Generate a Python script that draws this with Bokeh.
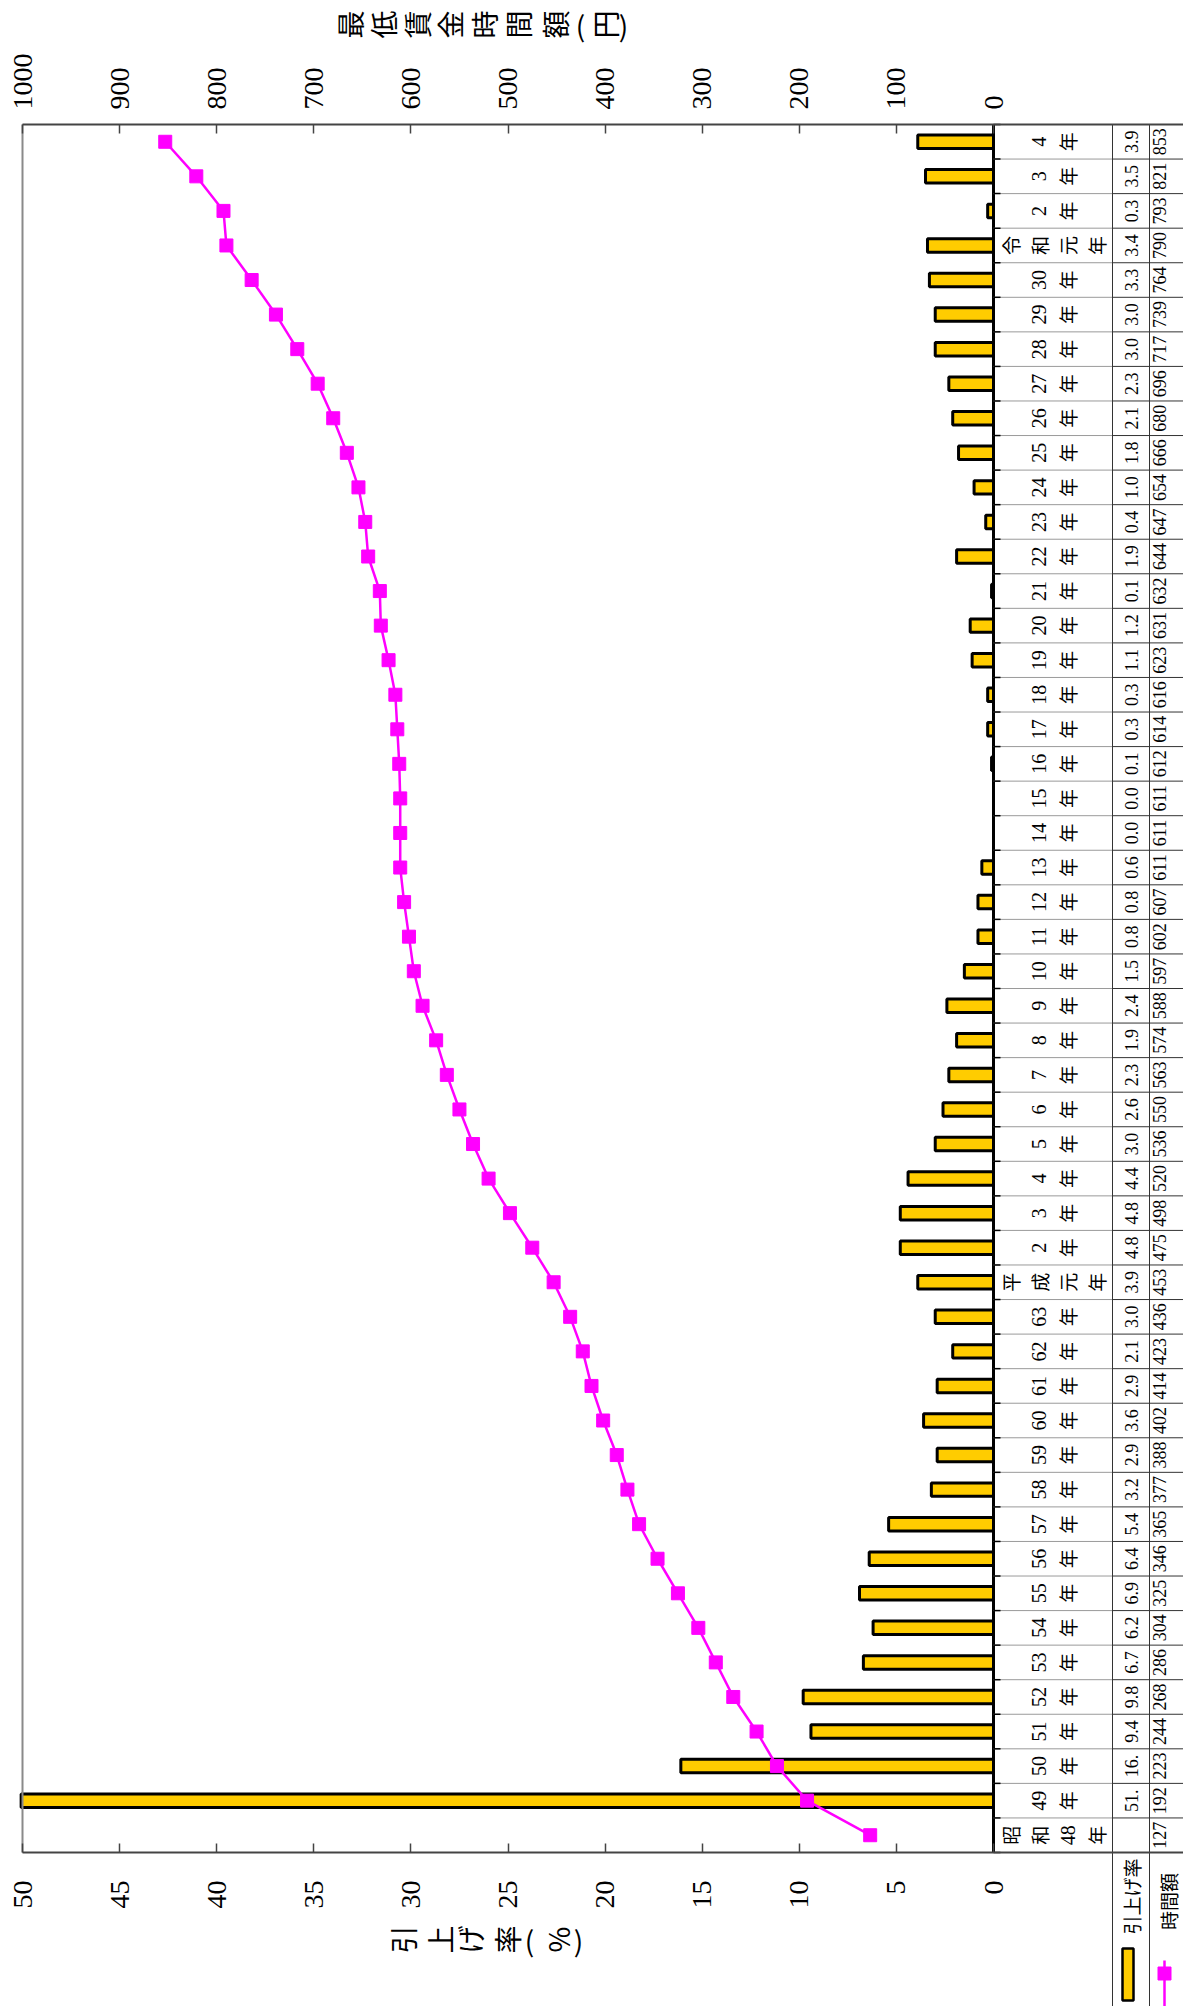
import math
import re
from bokeh.plotting import figure
from bokeh.models import Range1d, LinearAxis, FixedTicker, ColumnDataSource
from bokeh.embed import file_html
from bokeh.resources import INLINE
from bokeh.core.properties import value

# ---------------- data ----------------
categories = ["昭和48年", "49年", "50年", "51年", "52年", "53年", "54年", "55年", "56年", "57年",
              "58年", "59年", "60年", "61年", "62年", "63年",
              "平成元年", "2年", "3年", "4年", "5年", "6年", "7年", "8年", "9年", "10年",
              "11年", "12年", "13年", "14年", "15年", "16年", "17年", "18年", "19年", "20年",
              "21年", "22年", "23年", "24年", "25年", "26年", "27年", "28年", "29年", "30年",
              "令和元年", "2年", "3年", "4年"]
rate = [None, 51.2, 16.1, 9.4, 9.8, 6.7, 6.2, 6.9, 6.4, 5.4,
        3.2, 2.9, 3.6, 2.9, 2.1, 3.0,
        3.9, 4.8, 4.8, 4.4, 3.0, 2.6, 2.3, 1.9, 2.4, 1.5,
        0.8, 0.8, 0.6, 0.0, 0.0, 0.1, 0.3, 0.3, 1.1, 1.2,
        0.1, 1.9, 0.4, 1.0, 1.8, 2.1, 2.3, 3.0, 3.0, 3.3,
        3.4, 0.3, 3.5, 3.9]
wage = [127, 192, 223, 244, 268, 286, 304, 325, 346, 365,
        377, 388, 402, 414, 423, 436,
        453, 475, 498, 520, 536, 550, 563, 574, 588, 597,
        602, 607, 611, 611, 611, 612, 614, 616, 623, 631,
        632, 644, 647, 654, 666, 680, 696, 717, 739, 764,
        790, 793, 821, 853]
rate_ticks = list(range(0, 51, 5))
wage_ticks = list(range(0, 1001, 100))
title_wage = "最低賃金時間額(円)"
title_rate = "引上げ率(%)"
legend_rate = "引上げ率"
legend_wage = "時間額"

# ---------------- layout (page pixels) ----------------
W, H = 1183, 2006
PL, PR, PT, PB = 22, 993, 124, 1852  # plot frame
n = len(categories)
RATE_MAX, WAGE_MAX = 50, 1000
px_rate = (PR - PL) / RATE_MAX
px_wage = (PR - PL) / WAGE_MAX
px_row = (PB - PT) / n


def xv(X):   # page x -> rate units
    return (PR - X) / px_rate


def wv(X):   # page x -> wage units
    return (PR - X) / px_wage


def yv(Y):   # page y -> category index units
    return (n - 0.5) - (Y - PT) / px_row


CJK = value("Noto Sans CJK JP")
NUM = value("Liberation Sans Narrow")
ROT = math.pi / 2
idx = list(range(n))

p = figure(width=W, height=H,
           x_range=Range1d(xv(0), xv(W)), y_range=Range1d(yv(H), yv(0)),
           output_backend="svg", toolbar_location=None,
           x_axis_location=None, y_axis_location=None,
           min_border_left=0, min_border_right=0, min_border_top=0, min_border_bottom=0,
           outline_line_color=None, background_fill_color="white", border_fill_color="white")
p.extra_x_ranges = {"wage": Range1d(wv(0), wv(W))}
p.grid.visible = False

# ---------------- bars + line ----------------
rate_plot = [float("nan") if r is None else r for r in rate]
src = ColumnDataSource(dict(idx=idx, rate=rate_plot, wage=wage,
                            clip=[min(r, RATE_MAX + 0.07) if r == r else r for r in rate_plot]))
p.hbar(y="idx", left=0, right="clip", height=0.39, source=src,
       fill_color="#FFCC00", line_color="black", line_width=3)
p.line(x="wage", y="idx", source=src, x_range_name="wage",
       line_color="#FF00FF", line_width=2.5)
p.scatter(x="wage", y="idx", source=src, x_range_name="wage", marker="square",
          size=13, fill_color="#FF00FF", line_color="#FF00FF")

# frame borders: left (grey) and category axis (black, at rate 0)
p.segment(x0=[RATE_MAX], y0=[yv(PT)], x1=[RATE_MAX], y1=[yv(PB)], line_color="#8a8a8a", line_width=2)
p.segment(x0=[0], y0=[yv(PT)], x1=[0], y1=[yv(PB)], line_color="black", line_width=3)


# ---------------- value axes ----------------
def style_axis(ax, standoff):
    ax.major_label_orientation = ROT
    ax.major_tick_in = 9
    ax.major_tick_out = 0
    ax.minor_tick_in = 0
    ax.minor_tick_out = 0
    ax.axis_line_color = "#444444"
    ax.axis_line_width = 2
    ax.major_tick_line_color = "#444444"
    ax.major_tick_line_width = 1.5
    ax.major_label_standoff = standoff
    ax.major_label_text_font = "Liberation Sans Narrow"
    ax.major_label_text_font_size = "28px"
    ax.major_label_text_color = "black"


bottom_ax = LinearAxis(ticker=FixedTicker(ticks=rate_ticks), fixed_location=yv(PB),
                       bounds=(xv(W), RATE_MAX))
style_axis(bottom_ax, 28)
p.add_layout(bottom_ax, "below")

top_ax = LinearAxis(x_range_name="wage", ticker=FixedTicker(ticks=wage_ticks),
                    fixed_location=yv(PT), bounds=(wv(W), WAGE_MAX))
style_axis(top_ax, 15)
p.add_layout(top_ax, "above")

# ---------------- axis titles (characters left-to-right, each rotated) ----------------
top_off = [0, 33.5, 67, 100.5, 134, 168, 205, 231, 255, 274]
bot_off = [0, 37, 67, 104, 127, 155, 176]


def char_title(text, X0, offs, Y):
    chars = list(text)
    ang = [0.0 if c in "()" else ROT for c in chars]
    p.text(x=[xv(X0 + o) for o in offs], y=[yv(Y)] * len(chars), text=chars, angle=ang,
           text_font=CJK, text_font_size=value("28px"),
           text_align="center", text_baseline="middle", text_color="black")


char_title(title_wage, 349, top_off, 24)
char_title(title_rate, 402, bot_off, 1939)

# ---------------- data table ----------------
C1, C2 = 1112, 1149
bounds = [b - 0.5 for b in range(n + 1)]
nb = len(bounds)
p.segment(x0=[xv(PR)] * nb, y0=bounds, x1=[xv(C1)] * nb, y1=bounds,
          line_color="#9a9a9a", line_width=1)
p.segment(x0=[xv(C1)] * nb, y0=bounds, x1=[xv(W)] * nb, y1=bounds,
          line_color="#333333", line_width=1)
p.segment(x0=[xv(PR)] * nb, y0=bounds, x1=[xv(PR + 7)] * nb, y1=bounds,
          line_color="black", line_width=1.5)
p.segment(x0=[xv(C1), xv(C2)], y0=[yv(PT)] * 2, x1=[xv(C1), xv(C2)], y1=[yv(H)] * 2,
          line_color="#333333", line_width=1)

dx, dy, dt, cx, cy, ct = [], [], [], [], [], []
for i, lab in enumerate(categories):
    toks = re.findall(r"\d+|.", lab)
    k = len(toks)
    for j, tok in enumerate(toks):
        X = xv(1053 + (j - (k - 1) / 2) * 28.5)
        if tok.isdigit():
            dx.append(X); dy.append(i); dt.append(tok)
        else:
            cx.append(X); cy.append(i); ct.append(tok)
p.text(x=cx, y=cy, text=ct, angle=ROT, text_font=CJK, text_font_size=value("19px"),
       text_align="center", text_baseline="middle", text_color="black")
p.text(x=dx, y=dy, text=dt, angle=ROT, text_font=NUM, text_font_size=value("20px"),
       text_align="center", text_baseline="middle", text_color="black")

rate_txt = ["" if r is None else f"{r:.1f}"[:3] for r in rate]
wage_txt = [str(w) for w in wage]
p.text(x=[xv(1131)] * n, y=idx, text=rate_txt, angle=ROT, text_font=NUM,
       text_font_size=value("18px"), text_align="center", text_baseline="middle", text_color="black")
p.text(x=[xv(1159)] * n, y=idx, text=wage_txt, angle=ROT, text_font=NUM,
       text_font_size=value("18px"), text_align="center", text_baseline="middle", text_color="black")

# ---------------- legend keys (bottom of the table) ----------------
p.quad(left=[xv(1122)], right=[xv(1133)], top=[yv(1948)], bottom=[yv(2000)],
       fill_color="#FFCC00", line_color="black", line_width=2.5)
p.text(x=[xv(1131)], y=[yv(1896)], text=[legend_rate], angle=ROT, text_font=CJK,
       text_font_size=value("19px"), text_align="center", text_baseline="middle", text_color="black")
p.segment(x0=[xv(1164)], y0=[yv(1960)], x1=[xv(1164)], y1=[yv(H)],
          line_color="#FF00FF", line_width=2.5)
p.scatter(x=[xv(1164)], y=[yv(1973)], marker="square", size=13,
          fill_color="#FF00FF", line_color="#FF00FF")
p.text(x=[xv(1168)], y=[yv(1901)], text=[legend_wage], angle=ROT, text_font=CJK,
       text_font_size=value("19px"), text_align="center", text_baseline="middle", text_color="black")

open("out.html", "w").write(file_html(p, INLINE))
